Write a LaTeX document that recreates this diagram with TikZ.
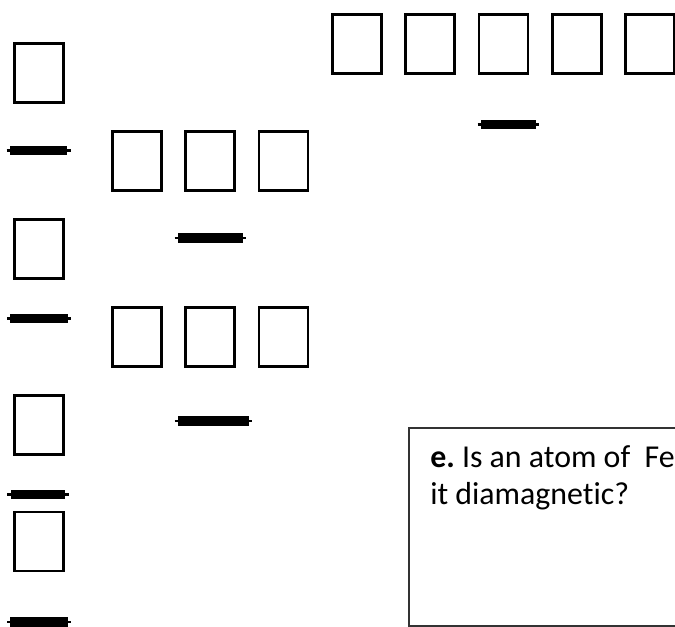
\documentclass[tikz,border=0pt]{standalone}
\usepackage{fontspec}
\setmainfont{Carlito}[Ligatures=NoCommon]
\usetikzlibrary{positioning}

\begin{document}
\begin{tikzpicture}[x=0.75pt,y=-0.75pt,node distance=1cm and 16.2pt]
  \tikzset{orb/.style={draw,line width=2pt,minimum width=36.75pt,minimum height=44.25pt,inner sep=0pt},
    blank/.style={fill=black,inner sep=0pt,outer sep=0pt,minimum height=6.8pt,minimum width=#1},
    blank/.default=42pt,
    qtext/.style={anchor=base west,inner sep=0pt,font=\fontsize{23.9}{28}\selectfont}}
  \useasboundingbox (0,0) rectangle (675,627);
  \clip (0,0) rectangle (675,627);
  % left column
  \node[orb] (s1) at (38.8,72.8) {};
  \node[orb] (s2) at (38.8,248.9) {};
  \node[orb] (s3) at (38.8,424.8) {};
  \node[orb] (s4) at (38.8,541.5) {};
  % rows of three
  \node[orb] (pa1) at (137,160.8) {};
  \node[orb,right=of pa1] (pa2) {};
  \node[orb,right=of pa2] (pa3) {};
  \node[orb] (pb1) at (137,337) {};
  \node[orb,right=of pb1] (pb2) {};
  \node[orb,right=of pb2] (pb3) {};
  % row of five
  \node[orb] (d1) at (357,43.7) {};
  \node[orb,right=of d1] (d2) {};
  \node[orb,right=of d2] (d3) {};
  \node[orb,right=of d3] (d4) {};
  \node[orb,right=of d4] (d5) {};
  % blanks
  \node[blank=43pt] (b1) at (38.5,150.5) {};
  \node[blank=43pt] (b2) at (39,318.5) {};
  \node[blank=41pt] (b3) at (38,494.5) {};
  \node[blank=43pt] (b4) at (39,622) {};
  \node[blank=48.75pt] (bp1) at (210.5,238) {};
  \node[blank=53.25pt] (bp2) at (213.5,421) {};
  \node[blank=41.25pt] (bd) at (508.5,124.5) {};
  \foreach \b in {b1,b2,b3,b4,bp1,bp2,bd}
    \draw[line width=2.2pt] ([xshift=-2.5pt]\b.west) -- ([xshift=2.5pt]\b.east);
  % question
  \node[draw=black!80,line width=1.1pt,outer sep=0pt,anchor=north west,
    minimum width=240pt,minimum height=148.5pt] (qbox) at (409,428) {};
  \node[qtext] (q1) at (430,467) {\textbf{e.}\ Is an atom of~~Fe};
  \node[qtext] (q2) at (430,504) {it diamagnetic?};
\end{tikzpicture}
\end{document}
